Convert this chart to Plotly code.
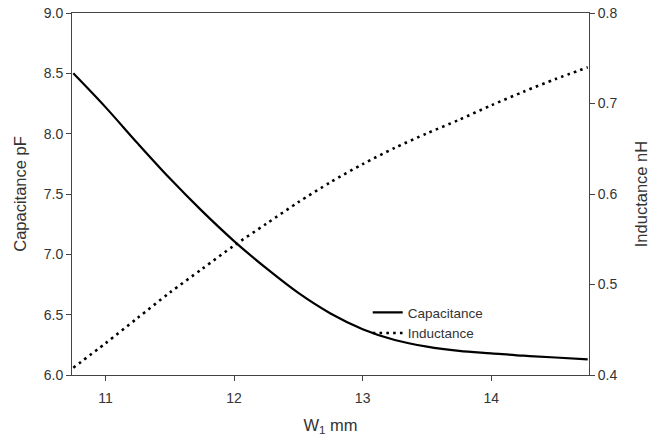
import plotly.graph_objects as go

w1_mm = [10.75, 11.0, 11.25, 11.5, 11.75, 12.0, 12.25, 12.5, 12.75, 13.0,
         13.25, 13.5, 13.75, 14.0, 14.25, 14.5, 14.75]
capacitance_pF = [8.50, 8.22, 7.92, 7.63, 7.36, 7.11, 6.885, 6.68, 6.51, 6.38,
                  6.29, 6.235, 6.20, 6.18, 6.16, 6.145, 6.13]
inductance_nH = [0.408, 0.435, 0.463, 0.491, 0.517, 0.543, 0.567, 0.591, 0.613, 0.633,
                 0.651, 0.667, 0.682, 0.698, 0.713, 0.727, 0.740]

x_ticks = [11, 12, 13, 14]
y_left_ticks = [6.0, 6.5, 7.0, 7.5, 8.0, 8.5, 9.0]
y_right_ticks = [0.4, 0.5, 0.6, 0.7, 0.8]

font_family = "Liberation Sans, Arial, sans-serif"
axis_color = "#444444"
text_color = "#333333"

fig = go.Figure()
fig.add_trace(go.Scatter(
    x=w1_mm, y=capacitance_pF, name="Capacitance", mode="lines",
    line=dict(color="black", width=2.2, shape="spline", smoothing=1.0),
    yaxis="y"))
fig.add_trace(go.Scatter(
    x=w1_mm, y=inductance_nH, name="Inductance", mode="lines",
    line=dict(color="black", width=2.6, dash="2.6px,4.2px", shape="spline", smoothing=0.8),
    yaxis="y2"))

fig.update_layout(
    width=652, height=441,
    margin=dict(l=72, r=63, t=13, b=66, autoexpand=False),
    paper_bgcolor="white", plot_bgcolor="white",
    font=dict(family=font_family, color=text_color, size=14),
    showlegend=True,
    legend=dict(x=0.572, y=0.215, xanchor="left", yanchor="top",
                bgcolor="rgba(0,0,0,0)", font=dict(size=13.5, color=text_color),
                tracegroupgap=0, itemwidth=30),
    xaxis=dict(
        range=[10.74, 14.76], tickvals=x_ticks, ticktext=[str(v) for v in x_ticks],
        showgrid=False, zeroline=False, showline=True, linecolor=axis_color, linewidth=1,
        mirror=True, ticks="outside", ticklen=5, tickcolor=axis_color,
        ticklabelstandoff=5, automargin=False,
        title=dict(text="W<sub>1</sub> mm", font=dict(size=16.5), standoff=14),
        tickfont=dict(size=14)),
    yaxis=dict(
        range=[6.0, 9.0], tickvals=y_left_ticks, ticktext=[f"{v:.1f}" for v in y_left_ticks],
        showgrid=False, zeroline=False, showline=True, linecolor=axis_color, linewidth=1,
        ticks="outside", ticklen=5, tickcolor=axis_color, automargin=False,
        title=dict(text="Capacitance pF", font=dict(size=16.5), standoff=12),
        tickfont=dict(size=14)),
    yaxis2=dict(
        range=[0.4, 0.8], tickvals=y_right_ticks, ticktext=[f"{v:.1f}" for v in y_right_ticks],
        overlaying="y", side="right",
        showgrid=False, zeroline=False, showline=True, linecolor=axis_color, linewidth=1,
        ticks="outside", ticklen=5, tickcolor=axis_color, automargin=False,
        title=dict(text="Inductance nH", font=dict(size=16.5), standoff=18),
        tickfont=dict(size=14)),
)

fig.write_html("out.html")
